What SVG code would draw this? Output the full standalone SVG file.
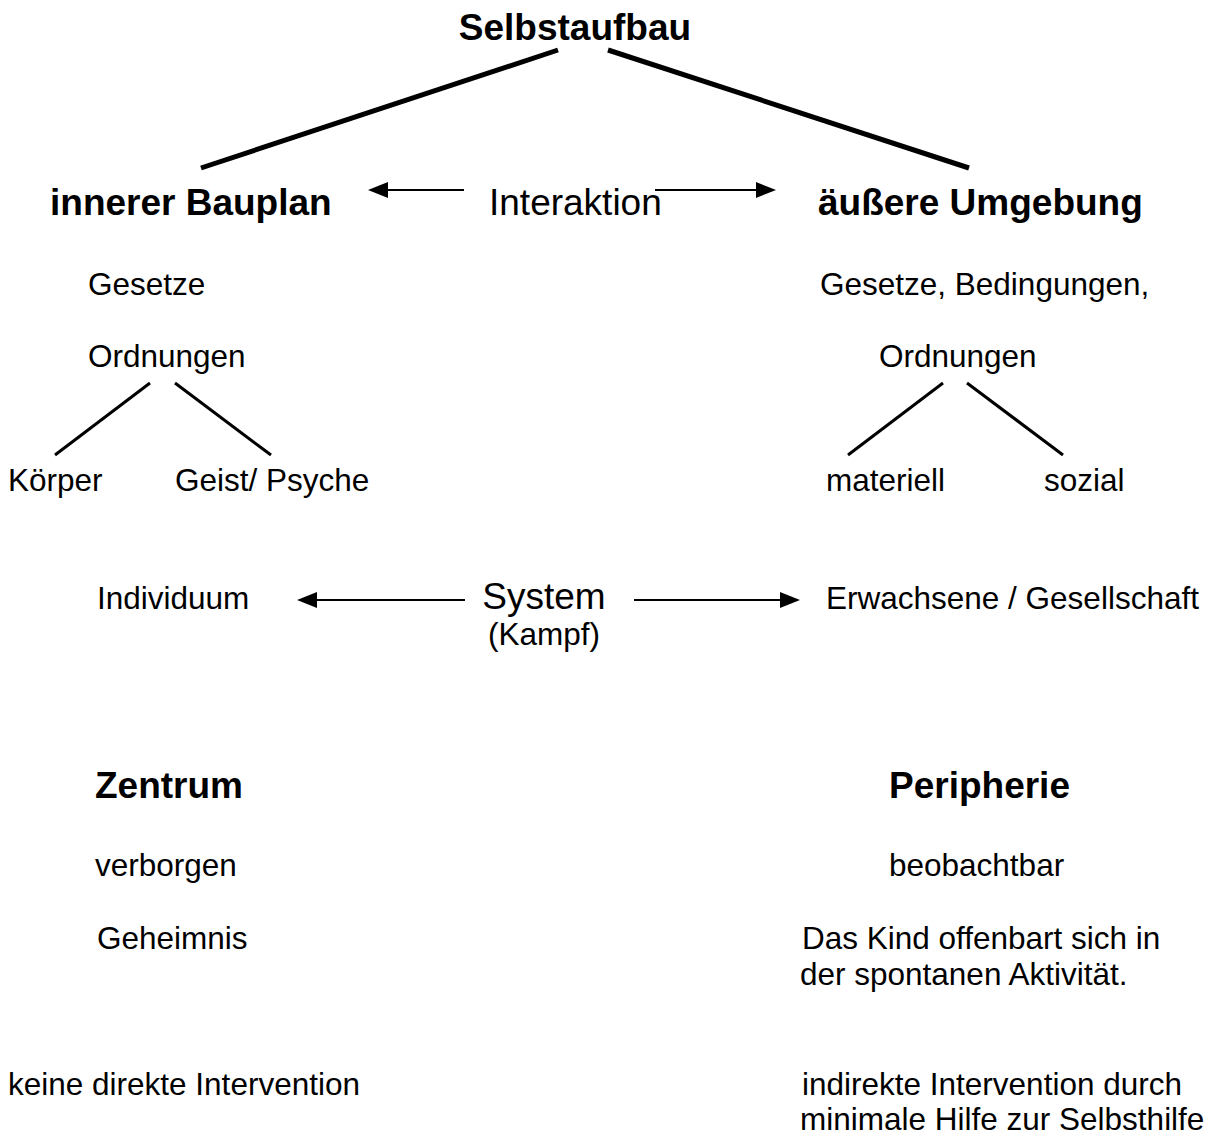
<svg xmlns="http://www.w3.org/2000/svg" width="1211" height="1135" viewBox="0 0 1211 1135">
<style>
text{font-family:"Liberation Sans",Arial,sans-serif;fill:#000}
.b{font-weight:bold;font-size:37px}
.r{font-size:31.5px}
.big{font-size:37px}
.thick{stroke:#000;stroke-width:5;fill:none}
.thin{stroke:#000;stroke-width:3;fill:none}
.arr{stroke:#000;stroke-width:2;fill:none}
</style>
<rect width="1211" height="1135" fill="#fff"/>
<g id="connectors">
<line class="thick" x1="558" y1="50" x2="201" y2="168"/>
<line class="thick" x1="608" y1="50" x2="969" y2="168"/>
<line class="arr" x1="464" y1="190" x2="385" y2="190"/>
<polygon points="368,190 388,182 388,198"/>
<line class="arr" x1="655" y1="190" x2="758" y2="190"/>
<polygon points="776,190 756,182 756,198"/>
<line class="thin" x1="150" y1="383" x2="55" y2="455"/>
<line class="thin" x1="175" y1="383" x2="271" y2="455"/>
<line class="thin" x1="943" y1="383" x2="848" y2="455"/>
<line class="thin" x1="967" y1="383" x2="1063" y2="455"/>
<line class="arr" x1="465" y1="600" x2="314" y2="600"/>
<polygon points="297,600 317,592 317,608"/>
<line class="arr" x1="634" y1="600" x2="783" y2="600"/>
<polygon points="800,600 780,592 780,608"/>
</g>
<g id="n-selbstaufbau"><text class="b" x="575" y="40" text-anchor="middle">Selbstaufbau</text></g>
<g id="n-bauplan"><text class="b" x="50" y="215">innerer Bauplan</text></g>
<g id="n-interaktion"><text class="big" x="489" y="215">Interaktion</text></g>
<g id="n-umgebung"><text class="b" x="818" y="215">äußere Umgebung</text></g>
<g id="n-gesetze1"><text class="r" x="88" y="295">Gesetze</text></g>
<g id="n-ordnungen1"><text class="r" x="88" y="367">Ordnungen</text></g>
<g id="n-koerper"><text class="r" x="8" y="491">Körper</text></g>
<g id="n-geist"><text class="r" x="175" y="491">Geist/ Psyche</text></g>
<g id="n-gesetze2"><text class="r" x="820" y="295">Gesetze, Bedingungen,</text></g>
<g id="n-ordnungen2"><text class="r" x="879" y="367">Ordnungen</text></g>
<g id="n-materiell"><text class="r" x="826" y="491">materiell</text></g>
<g id="n-sozial"><text class="r" x="1044" y="491">sozial</text></g>
<g id="n-individuum"><text class="r" x="97" y="609">Individuum</text></g>
<g id="n-system"><text class="big" x="544" y="609" text-anchor="middle">System</text><text class="r" x="544" y="645" text-anchor="middle">(Kampf)</text></g>
<g id="n-erwachsene"><text class="r" x="826" y="609">Erwachsene / Gesellschaft</text></g>
<g id="n-zentrum"><text class="b" x="95" y="798">Zentrum</text></g>
<g id="n-peripherie"><text class="b" x="889" y="798">Peripherie</text></g>
<g id="n-verborgen"><text class="r" x="95" y="876">verborgen</text></g>
<g id="n-beobachtbar"><text class="r" x="889" y="876">beobachtbar</text></g>
<g id="n-geheimnis"><text class="r" x="97" y="949">Geheimnis</text></g>
<g id="n-kind"><text class="r" x="802" y="949">Das Kind offenbart sich in</text><text class="r" x="800" y="985">der spontanen Aktivität.</text></g>
<g id="n-keine"><text class="r" x="8" y="1095">keine direkte Intervention</text></g>
<g id="n-indirekt"><text class="r" x="802" y="1095">indirekte Intervention durch</text><text class="r" x="800" y="1130">minimale Hilfe zur Selbsthilfe</text></g>
</svg>
